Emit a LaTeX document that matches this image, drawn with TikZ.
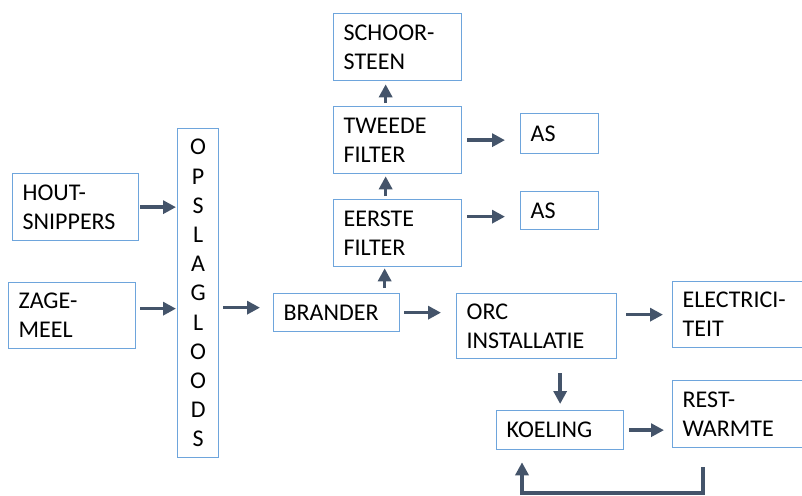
\documentclass[tikz,border=0pt]{standalone}
\usepackage{fontspec}
\setmainfont{Carlito}
\usepackage{xcolor}
\usetikzlibrary{positioning,arrows.meta}
\definecolor{boxblue}{RGB}{110,165,220}
\definecolor{arrowgrey}{RGB}{68,84,106}
\newcommand\boxfont{\fontsize{24}{29}\selectfont}
\tikzset{
    box/.style={
        rectangle, draw=boxblue, line width=1.3pt,
        fill=white, anchor=north west,
        inner xsep=10pt, inner ysep=0pt,
        align=left, font=\boxfont
    },
    flow/.style={
        ->, draw=arrowgrey, line width=3.6pt
    }
}
\begin{document}
\begin{tikzpicture}[x=1pt, y=-1pt, >={Triangle[length=13pt,width=13pt]}]

        \useasboundingbox (0,0) rectangle (802,495);
        \clip (0,0) rectangle (802,495);

        % Input
        \node[box, text width=106pt, minimum height=67pt] (hout) at (12,173) {HOUT-\\SNIPPERS};
        \node[box, text width=107pt, minimum height=66pt] (zage) at (8,282) {ZAGE-\\MEEL};

        % Storage
        \node[box, text width=21pt, minimum height=329pt, align=center,
              font={\fontsize{24}{29.2}\selectfont}] (opslag) at (177,128)
              {O\\P\\S\\L\\A\\G\\L\\O\\O\\D\\S};

        % Burner and filters
        \node[box, text width=106pt, minimum height=38pt] (brander) at (273,293) {BRANDER};
        \node[box, text width=108pt, minimum height=67pt] (eerste) at (333,199) {EERSTE\\FILTER};
        \node[box, text width=108pt, minimum height=67pt] (tweede) at (333,106) {TWEEDE\\FILTER};
        \node[box, text width=108pt, minimum height=67pt] (schoor) at (333,13) {SCHOOR-\\STEEN};
        \node[box, text width=58pt, minimum height=40pt] (as1) at (520,113) {AS};
        \node[box, text width=58pt, minimum height=38pt] (as2) at (520,191) {AS};

        % ORC
        \node[box, text width=140pt, minimum height=65pt] (orc) at (456,293) {ORC\\INSTALLATIE};
        \node[box, text width=120pt, minimum height=66pt] (elec) at (672,281) {ELECTRICI-\\TEIT};
        \node[box, text width=107pt, minimum height=39pt] (koeling) at (496,410) {KOELING};
        \node[box, text width=120pt, minimum height=67pt] (rest) at (672,380) {REST-\\WARMTE};

        % Loop corners
        \coordinate (loopR) at (703,493);
        \coordinate (loopL) at (522,493);

        % Arrows
        \draw[flow, shorten <=1pt, shorten >=1pt] (hout.east) -- (hout.east -| opslag.west);
        \draw[flow, shorten <=4pt, shorten >=1pt] ([yshift=7pt]zage.east) -- ([yshift=7pt]zage.east -| opslag.west);
        \draw[flow, shorten <=4pt, shorten >=13pt] ([yshift=5pt]brander.west -| opslag.east) -- ([yshift=5pt]brander.west);

        \draw[flow, shorten <=5pt, shorten >=1pt] ([xshift=-13pt]eerste.south |- brander.north) -- ([xshift=-13pt]eerste.south);
        \draw[flow, shorten <=3pt, shorten >=2pt] ([xshift=-12pt]eerste.north) -- ([xshift=-12pt]tweede.south);
        \draw[flow, shorten <=3pt, shorten >=3pt] ([xshift=-12pt]tweede.north) -- ([xshift=-12pt]schoor.south);

        \draw[flow, shorten <=5pt, shorten >=15pt] (tweede.east) -- (tweede.east -| as1.west);
        \draw[flow, shorten <=5pt, shorten >=15pt] ([yshift=-6pt]as2.west -| eerste.east) -- ([yshift=-6pt]as2.west);

        \draw[flow, shorten <=4pt, shorten >=15pt] (brander.east) -- (brander.east -| orc.west);
        \draw[flow, shorten <=9pt, shorten >=9pt] (elec.west -| orc.east) -- (elec.west);
        \draw[flow, shorten <=14pt, shorten >=6pt] (koeling.north |- orc.south) -- (koeling.north);
        \draw[flow, shorten <=5pt, shorten >=8pt] (koeling.east) -- (koeling.east -| rest.west);

        \draw[flow, shorten <=19pt, shorten >=12pt] (loopR |- rest.south) -- (loopR) -- (loopL) -- (loopL |- koeling.south);

    \end{tikzpicture}
\end{document}
